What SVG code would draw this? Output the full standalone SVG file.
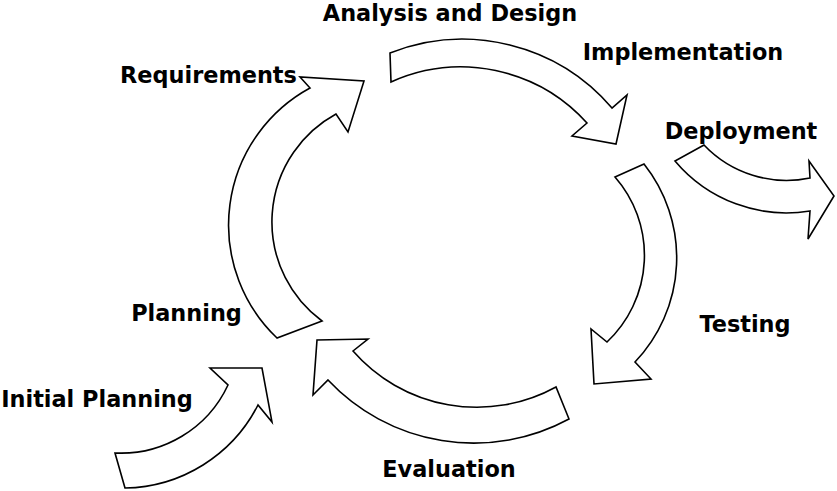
<svg xmlns="http://www.w3.org/2000/svg" width="837" height="491" viewBox="0 0 837 491">
<style>
.arrow{fill:#ffffff;stroke:#000000;stroke-width:1.6;stroke-linejoin:miter}
.lbl{font-family:"DejaVu Sans","Liberation Sans",sans-serif;font-weight:bold;font-size:22.4px;fill:#000000;text-anchor:middle}
</style>
<rect x="0" y="0" width="837" height="491" fill="#ffffff"/>
<g id="connectors">
<path id="arrow-requirements" class="arrow" d="M 277,338 A 156 156 0 0 1 310,88 L 300,77 L 364,81 L 348,132 L 336,114 A 123 123 0 0 0 322,321 Z"/>
<path id="arrow-analysis" class="arrow" d="M 390,53 A 197 197 0 0 1 612,108 L 627,95 L 616,144 L 572,136 L 587,123 A 170 170 0 0 0 391,82 Z"/>
<path id="arrow-deployment" class="arrow" d="M 704,145 L 675,161 A 145.6 145.6 0 0 0 810,211 L 808,239 L 834,196 L 809,161 L 810,178 A 114 114 0 0 1 704,145 Z"/>
<path id="arrow-testing" class="arrow" d="M 615,177 L 644,164 A 151 151 0 0 1 635,362 L 651,379 L 594,384 L 591,329 L 607,342 A 119 119 0 0 0 615,177 Z"/>
<path id="arrow-evaluation" class="arrow" d="M 569,419 L 556,387 A 164.5 164.5 0 0 1 353,351 L 368,339 L 317,340 L 313,395 L 328,380 A 200 200 0 0 0 569,419 Z"/>
<path id="arrow-initial" class="arrow" d="M 125,488 L 115,453 A 118 118 0 0 0 228,385 L 210,368 L 262,368 L 272,422 L 258,405 A 152 152 0 0 1 125,488 Z"/>
</g>
<g id="node-analysis"><text class="lbl" x="450" y="21">Analysis and Design</text></g>
<g id="node-implementation"><text class="lbl" x="683" y="59.5">Implementation</text></g>
<g id="node-requirements"><text class="lbl" x="208.5" y="83">Requirements</text></g>
<g id="node-deployment"><text class="lbl" x="741" y="138.5">Deployment</text></g>
<g id="node-planning"><text class="lbl" x="186.5" y="320.5">Planning</text></g>
<g id="node-testing"><text class="lbl" x="745" y="331.5">Testing</text></g>
<g id="node-initial"><text class="lbl" x="97" y="406.5">Initial Planning</text></g>
<g id="node-evaluation"><text class="lbl" x="449" y="477">Evaluation</text></g>
</svg>
